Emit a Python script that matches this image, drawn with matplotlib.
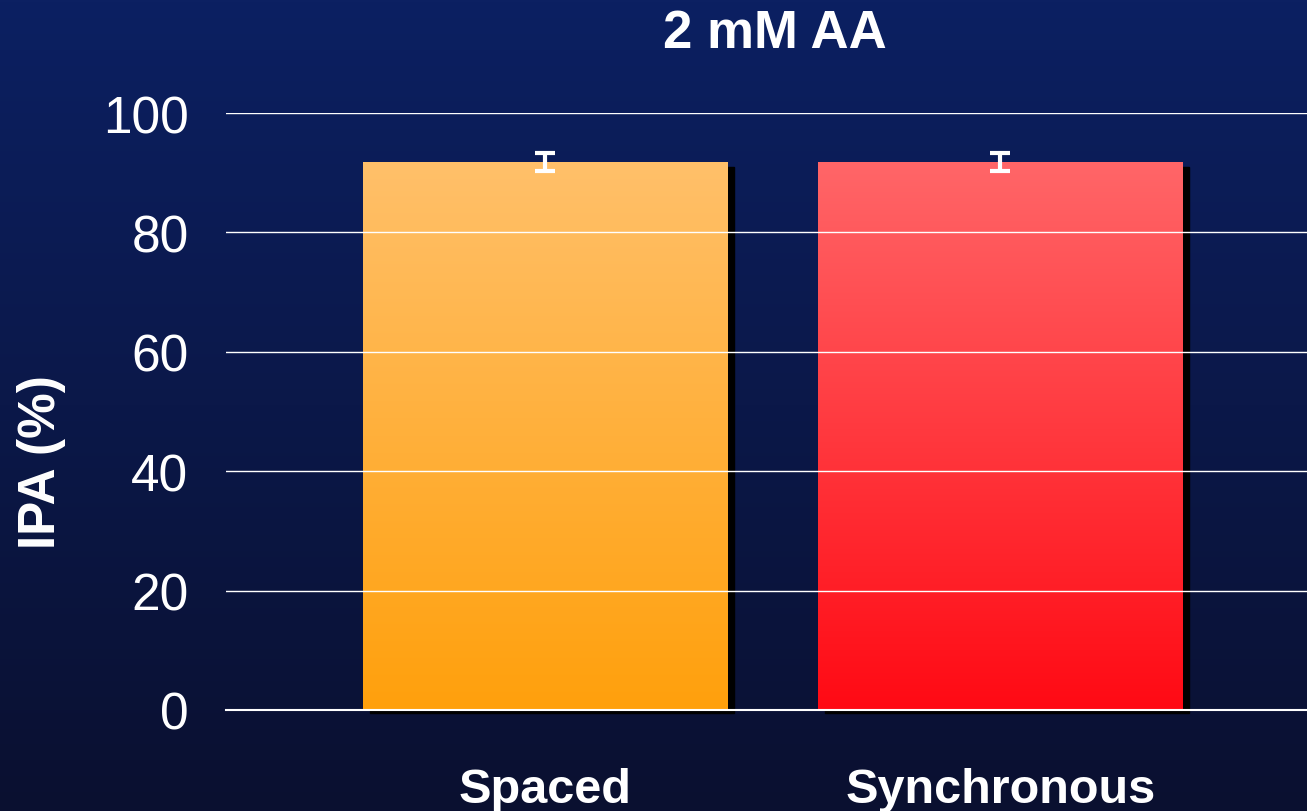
import numpy as np
import matplotlib
matplotlib.use("Agg")
import matplotlib.pyplot as plt
from matplotlib.colors import LinearSegmentedColormap
from matplotlib.patches import Rectangle

# data
categories = ["Spaced", "Synchronous"]
ipa = [91.8, 91.8]
ipa_err = [1.5, 1.5]
yticks = [0, 20, 40, 60, 80, 100]
title = "2 mM AA"
ylabel = "IPA (%)"

# gradient colours per bar (bottom, top)
bar_colors = [("#FFA00C", "#FFC06A"), ("#FF0A14", "#FF6668")]

plt.rcParams['font.family'] = ['Liberation Sans', 'DejaVu Sans']

fig = plt.figure(figsize=(13.07, 8.12), dpi=100)

# background gradient
bg = fig.add_axes([0, 0, 1, 1], zorder=-10)
bg_cmap = LinearSegmentedColormap.from_list("bg", ["#0A1030", "#0C2062"])
bg.imshow(np.linspace(0, 1, 256).reshape(-1, 1), aspect="auto", cmap=bg_cmap,
          origin="lower", extent=[0, 1, 0, 1])
bg.axis("off")

ax = fig.add_axes([226 / 1307, 1 - 711 / 812, 1 - 226 / 1307, (711 - 114) / 812])
ax.patch.set_alpha(0)

x = np.arange(len(categories))
width = 0.8

# shadow offsets (px -> data)
dx = 7 / 455
dy = 5 / 5.97
below = 2.5 / 5.97

for xi, val, (c0, c1) in zip(x, ipa, bar_colors):
    shadow = Rectangle((xi - width / 2 + dx, -below), width, val - dy + below,
                       color="black", zorder=1, clip_on=False)
    ax.add_patch(shadow)
    bar = Rectangle((xi - width / 2, 0), width, val, facecolor="none",
                    edgecolor="none", zorder=2)
    ax.add_patch(bar)
    cmap = LinearSegmentedColormap.from_list("g", [c0, c1])
    im = ax.imshow(np.linspace(0, 1, 256).reshape(-1, 1), aspect="auto", cmap=cmap,
                   origin="lower", extent=[xi - width / 2, xi + width / 2, 0, val],
                   zorder=2)
    im.set_clip_path(bar)

ax.set_xlim(-0.701, 1.674)
ax.set_ylim(0, 100)

ax.errorbar(x, ipa, yerr=ipa_err, fmt="none", ecolor="white", elinewidth=3,
            capsize=7.5, capthick=3, zorder=4)

ax.set_yticks(yticks)
ax.yaxis.grid(True, color="white", linewidth=1)
ax.set_axisbelow(False)
for line in ax.get_ygridlines():
    line.set_zorder(1.5)
ax.tick_params(axis="y", length=0, pad=27, labelsize=37, labelcolor="white")
ax.set_xticks(x)
ax.set_xticklabels(categories, fontsize=35, fontweight="bold", color="white")
ax.tick_params(axis="x", length=0, pad=41)

for s in ["top", "right", "left"]:
    ax.spines[s].set_visible(False)
ax.spines["bottom"].set_color("white")
ax.spines["bottom"].set_linewidth(1.5)
ax.spines["bottom"].set_zorder(5)

fig.text(775 / 1307, 1 - 34 / 812, title, fontsize=38, fontweight="bold",
         color="white", ha="center", va="center")
fig.text(42 / 1307, 1 - 462 / 812, ylabel, fontsize=37, fontweight="bold",
         color="white", ha="center", va="center", rotation=90)

fig.savefig("out.png", dpi=100)
